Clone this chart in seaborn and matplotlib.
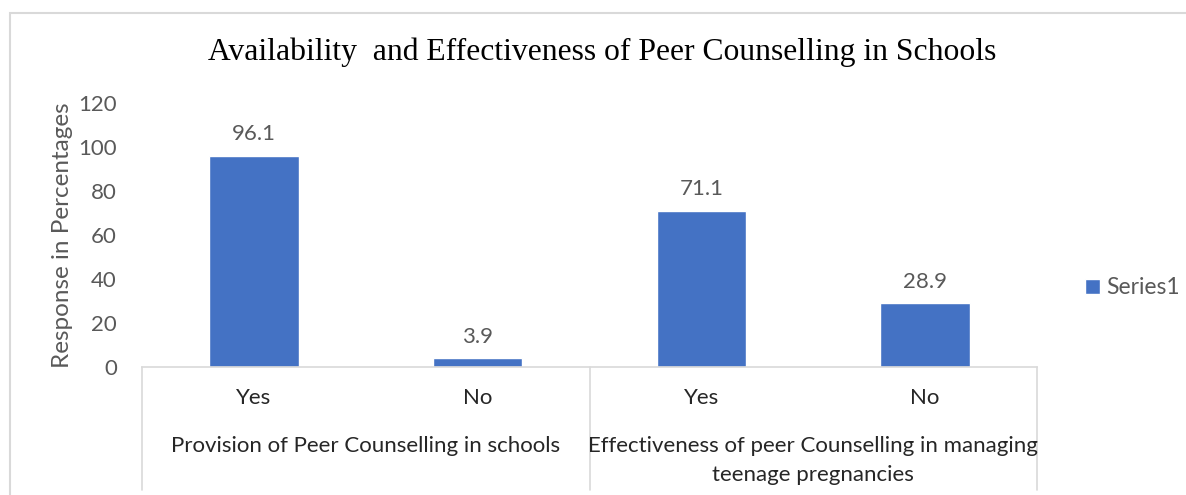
import matplotlib
matplotlib.use("Agg")
import matplotlib.pyplot as plt
import matplotlib.patches as mpatches
import seaborn as sns
import pandas as pd

groups = ["Provision of Peer Counselling in schools",
          "Provision of Peer Counselling in schools",
          "Effectiveness of peer Counselling in managing\nteenage pregnancies",
          "Effectiveness of peer Counselling in managing\nteenage pregnancies"]
answers = ["Yes", "No", "Yes", "No"]
values = [96.1, 3.9, 71.1, 28.9]
series_name = "Series1"
title = "Availability  and Effectiveness of Peer Counselling in Schools"
ylabel = "Response in Percentages"
yticks = [0, 20, 40, 60, 80, 100, 120]

BAR = "#4472c4"
TXT = "#595959"
LINE = "#d9d9d9"
SANS = "Lato"
FS = 16

sns.set_theme(style="white")
plt.rcParams["font.family"] = [SANS, "DejaVu Sans"]

df = pd.DataFrame({"key": [f"{g}|{a}|{i}" for i, (g, a) in enumerate(zip(groups, answers))],
                   "value": values, "series": series_name})

fig = plt.figure(figsize=(11.86, 4.95), dpi=100)
W, H = 1186, 495
ax = fig.add_axes([142 / W, 1 - 367 / H, (1037 - 142) / W, (367 - 103) / H])

sns.barplot(data=df, x="key", y="value", hue="series", palette=[BAR],
            width=0.4, ax=ax, saturation=1)

ax.set_ylim(0, 120)
ax.set_xlim(-0.5, len(values) - 0.5)
ax.set_yticks(yticks)
ax.set_yticklabels([str(t) for t in yticks], color=TXT, fontsize=FS)
ax.tick_params(axis="y", length=0, pad=18)
ax.set_xticks([])
ax.set_xlabel("")
ax.set_ylabel(ylabel, color=TXT, fontsize=17.5, labelpad=4)
for s in ["left", "right", "top"]:
    ax.spines[s].set_visible(False)
ax.spines["bottom"].set_color(LINE)
ax.spines["bottom"].set_linewidth(1.2)

for c in ax.containers:
    ax.bar_label(c, labels=[f"{v:.1f}" for v in values], padding=8,
                 color=TXT, fontsize=FS)

# multi-level category axis
trans = ax.get_xaxis_transform()
span = 367 - 103
yb = -(490 - 367) / span
for i, a in enumerate(answers):
    ax.text(i, -(398 - 367) / span, a, transform=trans, ha="center",
            va="center", color="#262626", fontsize=FS)
uniq = []
for i, g in enumerate(groups):
    if not uniq or uniq[-1][0] != g:
        uniq.append([g, i, i])
    else:
        uniq[-1][2] = i
bounds = [-0.5]
for g, s, e in uniq:
    ax.text((s + e) / 2, -(436 - 367) / span, g, transform=trans,
            ha="center", va="top", color="#262626", fontsize=FS,
            linespacing=1.55)
    bounds.append(e + 0.5)
for b in bounds:
    ax.plot([b, b], [0, yb], transform=trans, color=LINE, lw=1.2, clip_on=False)

leg = ax.legend(loc="center left", bbox_to_anchor=(1064 / W, 1 - 288 / H),
                bbox_transform=fig.transFigure, frameon=False, fontsize=16.5,
                handlelength=0.65, handleheight=0.65, handletextpad=0.3)
for t in leg.get_texts():
    t.set_color(TXT)

fig.text(602 / W, 1 - 52 / H, title, ha="center", va="center",
         family=["Liberation Serif"], fontsize=22.8, color="#000000")

fig.patches.append(mpatches.Rectangle((10 / W, -0.1), 1.2, 1 - 13 / H + 0.1,
                                      transform=fig.transFigure, fill=False,
                                      edgecolor=LINE, lw=1.5))

fig.savefig("out.png", dpi=100, facecolor="white")
